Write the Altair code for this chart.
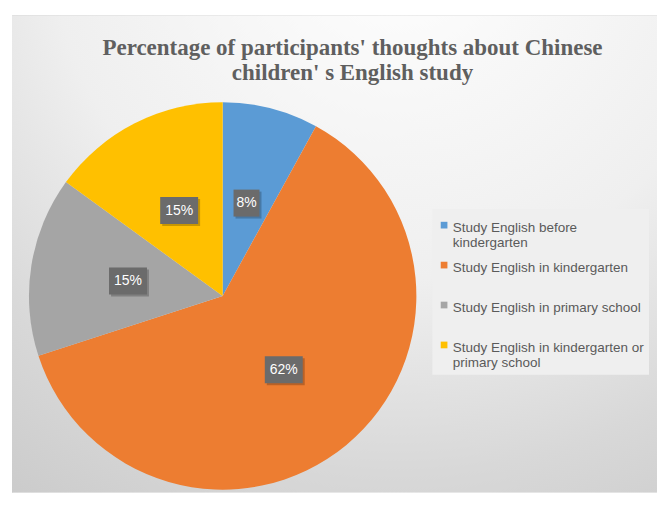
import altair as alt
import pandas as pd

# ---- data ----
categories = [
    "Study English before kindergarten",
    "Study English in kindergarten",
    "Study English in primary school",
    "Study English in kindergarten or primary school",
]
values = [8, 62, 15, 15]
colors = ["#5b9bd5", "#ed7d31", "#a5a5a5", "#ffc000"]
legend_lines = [
    ["Study English before", "kindergarten"],
    ["Study English in kindergarten", " "],
    ["Study English in primary school", " "],
    ["Study English in kindergarten or", "primary school"],
]
title_lines = [
    "Percentage of participants' thoughts about Chinese",
    "children' s English study",
]

df = pd.DataFrame({"category": categories, "value": values, "idx": list(range(len(values)))})

# ---- layout ----
W, H = 646, 478
CX, CY, R = 211, 281, 194
LR = 96  # label radius (px)

label_expr = ""
for cat, lines in zip(categories, legend_lines):
    arr = "[" + ",".join("'" + l + "'" for l in lines) + "]"
    label_expr += f"datum.label == '{cat}' ? {arr} : "
label_expr += "datum.label"

color = alt.Color(
    "category:N",
    scale=alt.Scale(domain=categories, range=colors),
    legend=alt.Legend(
        title=None,
        orient="none",
        legendX=421,
        legendY=194,
        padding=5,
        fillColor="#efefef",
        symbolType="M-1,0.3L1,0.3L1,2.3L-1,2.3Z",
        symbolSize=45,
        symbolStrokeWidth=0,
        labelFont="Liberation Sans",
        labelFontSize=13.5,
        labelColor="#5a5a5a",
        labelLimit=400,
        labelOffset=2,
        labelBaseline="top",
        rowPadding=4,
        labelExpr=label_expr,
    ),
)

gradient = alt.RadialGradient(
    gradient="radial",
    stops=[
        alt.GradientStop(offset=0, color="#ffffff"),
        alt.GradientStop(offset=0.45, color="#efefef"),
        alt.GradientStop(offset=0.7, color="#d8d8d8"),
        alt.GradientStop(offset=1, color="#c3c3c3"),
    ],
    x1=0.6, y1=0, x2=0.6, y2=0, r1=0, r2=1.2,
)

bg = alt.Chart(df.head(1)).mark_rect(color=gradient).encode(
    x=alt.value(0), x2=alt.value(W), y=alt.value(0), y2=alt.value(H)
)

base = alt.Chart(df).encode(
    theta=alt.Theta("value:Q", stack=True),
    order=alt.Order("idx:Q"),
)

pie = base.mark_arc(radius=R).encode(
    color=color,
    x=alt.value(CX),
    y=alt.value(CY),
)

xdom = [-CX / LR, (W - CX) / LR]
ydom = [-(H - CY) / LR, CY / LR]

lab = (
    alt.Chart(df)
    .transform_joinaggregate(total="sum(value)")
    .transform_window(cum="sum(value)", sort=[alt.SortField("idx")])
    .transform_calculate(
        mid="(datum.cum - datum.value / 2) / datum.total * 2 * PI",
        lx="sin(datum.mid)",
        ly="cos(datum.mid)",
        label="datum.value + '%'",
        box="datum.value >= 10 ? 'M-1.407,-1L1.407,-1L1.407,1L-1.407,1Z' : 'M-0.963,-1L0.963,-1L0.963,1L-0.963,1Z'",
        shadow="datum.value >= 10 ? 'M-1.259,-0.852L1.555,-0.852L1.555,1.148L-1.259,1.148Z' : 'M-0.815,-0.852L1.111,-0.852L1.111,1.148L-0.815,1.148Z'",
    )
    .encode(
        x=alt.X("lx:Q", scale=alt.Scale(domain=xdom, nice=False, zero=False), axis=None),
        y=alt.Y("ly:Q", scale=alt.Scale(domain=ydom, nice=False, zero=False), axis=None),
    )
)

shadow = lab.mark_point(filled=True, size=729, color="#000000", opacity=0.22, strokeWidth=0).encode(
    shape=alt.Shape("shadow:N", scale=None)
)
box = lab.mark_point(filled=True, size=729, color="#6b6b6b", opacity=1, strokeWidth=0).encode(
    shape=alt.Shape("box:N", scale=None)
)
txt = lab.mark_text(color="white", fontSize=14, font="Liberation Sans").encode(text="label:N")

chart = (
    alt.layer(bg, pie, shadow, box, txt)
    .properties(
        width=W,
        height=H,
        autosize=alt.AutoSizeParams(type="none"),
        padding={"left": 4, "top": 7, "right": 0, "bottom": 0},
        title=alt.Title(
            text=title_lines,
            font="Liberation Serif",
            fontSize=23,
            fontWeight="bold",
            color="#5f5f5f",
            anchor="middle",
            baseline="top",
            lineHeight=25,
            dx=18,
            offset=-70,
        ),
    )
    .configure_view(stroke=None)
    .configure(background="white")
)

chart.save("out.html", embed_options={"renderer": "svg", "actions": False})
